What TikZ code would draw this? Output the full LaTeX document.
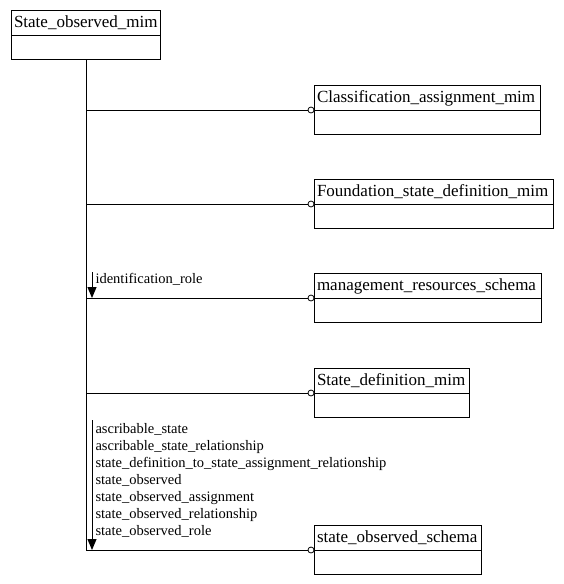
\documentclass[tikz,border=0pt]{standalone}
\usepackage{fontspec}
\setmainfont{Liberation Serif}
\usetikzlibrary{arrows.meta}
\begin{document}
\begin{tikzpicture}[x=1pt,y=-1pt,line width=1pt,
  box/.style={draw,anchor=north west,inner sep=0,minimum height=49pt},
  title/.style={anchor=west,inner sep=0,font=\fontsize{17}{19}\selectfont},
  lbl/.style={anchor=north west,inner sep=0,align=left,font=\fontsize{14.5}{17}\selectfont},
  ring/.style={draw,circle,fill=white,inner sep=0,minimum size=6pt,line width=0.8pt},
  role/.style={-{Triangle[length=11pt,width=9pt]}}]
\useasboundingbox (0,0) rectangle (563,584);
% boxes
\node[box,minimum width=149pt] (top) at (11,10) {};
\node[box,minimum width=226pt] (ca) at (314,85) {};
\node[box,minimum width=239pt] (fs) at (314,179) {};
\node[box,minimum width=227pt] (mr) at (314,273) {};
\node[box,minimum width=155pt] (sd) at (314,368) {};
\node[box,minimum width=167pt] (so) at (314,525) {};
% dividers and titles
\foreach \b/\t in {top/State\_observed\_mim,ca/Classification\_assignment\_mim,fs/Foundation\_state\_definition\_mim,mr/management\_resources\_schema,sd/State\_definition\_mim,so/state\_observed\_schema}{
  \draw (\b.west) -- (\b.east);
  \node[title] at ([xshift=2.5pt,yshift=12pt]\b.west) {\t};
}
% trunk
\coordinate (tend) at (top.south |- so.west);
\draw (top.south) -- (tend);
% connectors
\foreach \b in {ca,fs,mr,sd,so}{
  \draw (top.south |- \b.west) -- ([xshift=-3pt]\b.west);
  \node[ring] at ([xshift=-3pt]\b.west) {};
}
% role arrows
\coordinate (r1s) at (92,272);
\draw[role] (r1s) -- (r1s |- mr.west);
\node[lbl] (l1) at (95,273) {identification\_role};
\coordinate (r2s) at (92,420);
\draw[role] (r2s) -- (r2s |- so.west);
\node[lbl] (l2) at (95,423) {ascribable\_state\\ascribable\_state\_relationship\\state\_definition\_to\_state\_assignment\_relationship\\state\_observed\\state\_observed\_assignment\\state\_observed\_relationship\\state\_observed\_role};
\end{tikzpicture}
\end{document}
